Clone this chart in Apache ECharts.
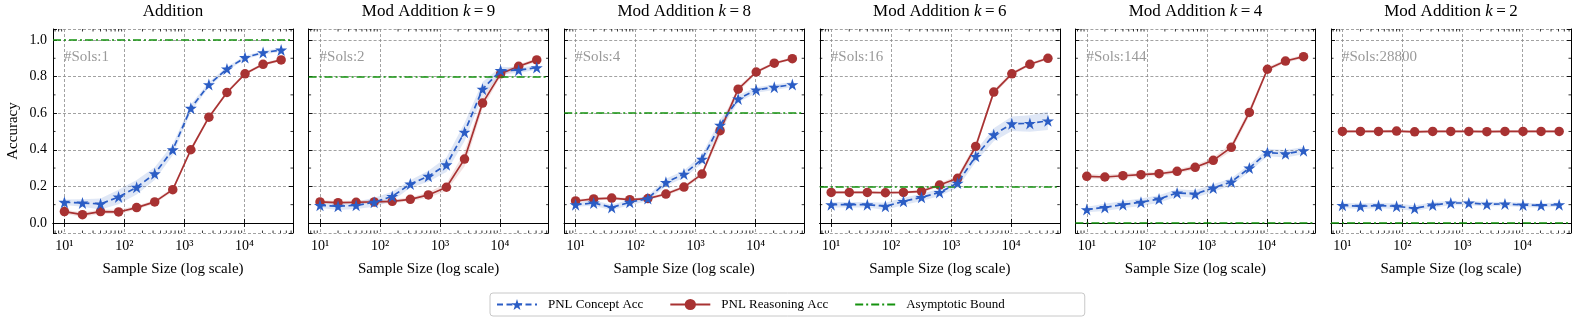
<!DOCTYPE html>
<html>
<head>
<meta charset="utf-8">
<script src="https://cdn.jsdelivr.net/npm/echarts@6/dist/echarts.min.js"></script>
<style>
  html, body { margin: 0; padding: 0; background: #fff; }
  #chart { width: 1578px; height: 326px; }
</style>
</head>
<body>
<div id="chart"></div>
<script>
// sample sizes shared by every panel
const sampleSizes = [10, 20, 40, 80, 160, 320, 640, 1280, 2560, 5120, 10240, 20480, 40960]

const panelNames = ['Addition', 'Mod Addition', 'Mod Addition', 'Mod Addition', 'Mod Addition', 'Mod Addition']
const kValues = [null, 9, 8, 6, 4, 2]
const solutionCounts = [1, 2, 4, 16, 144, 28800]
const asymptoticBound = [1.0, 0.8, 0.6, 0.2, 0.0, 0.0]

// PNL Concept Acc (mean) per panel
const conceptAddition = [0.113, 0.109, 0.104, 0.142, 0.195, 0.269, 0.400, 0.627, 0.756, 0.842, 0.904, 0.931, 0.945]
const conceptK9 = [0.096, 0.091, 0.096, 0.113, 0.145, 0.213, 0.255, 0.318, 0.496, 0.731, 0.833, 0.835, 0.849]
const conceptK8 = [0.100, 0.109, 0.085, 0.113, 0.133, 0.222, 0.267, 0.349, 0.535, 0.678, 0.727, 0.742, 0.756]
const conceptK6 = [0.100, 0.100, 0.100, 0.091, 0.118, 0.140, 0.167, 0.218, 0.364, 0.482, 0.542, 0.544, 0.558]
const conceptK4 = [0.073, 0.085, 0.100, 0.113, 0.131, 0.164, 0.158, 0.191, 0.224, 0.300, 0.385, 0.378, 0.395]
const conceptK2 = [0.096, 0.091, 0.095, 0.091, 0.080, 0.098, 0.109, 0.109, 0.102, 0.104, 0.098, 0.096, 0.100]

// PNL Reasoning Acc (mean) per panel
const reasoningAddition = [0.062, 0.045, 0.062, 0.060, 0.084, 0.115, 0.182, 0.400, 0.578, 0.713, 0.815, 0.867, 0.891]
const reasoningK9 = [0.115, 0.111, 0.113, 0.115, 0.118, 0.129, 0.153, 0.195, 0.349, 0.655, 0.815, 0.856, 0.891]
const reasoningK8 = [0.120, 0.131, 0.136, 0.127, 0.133, 0.158, 0.196, 0.267, 0.504, 0.731, 0.825, 0.873, 0.898]
const reasoningK6 = [0.167, 0.167, 0.167, 0.165, 0.167, 0.173, 0.207, 0.244, 0.418, 0.715, 0.815, 0.867, 0.900]
const reasoningK4 = [0.255, 0.251, 0.258, 0.264, 0.269, 0.282, 0.304, 0.342, 0.413, 0.604, 0.840, 0.885, 0.909]
const reasoningK2 = [0.500, 0.500, 0.500, 0.502, 0.498, 0.500, 0.500, 0.500, 0.499, 0.500, 0.500, 0.500, 0.500]

// half width of the shaded bands
const conceptSpreadAddition = [0.015, 0.020, 0.030, 0.040, 0.040, 0.035, 0.030, 0.020, 0.015, 0.012, 0.010, 0.010, 0.010]
const conceptSpreadK9 = [0.015, 0.020, 0.020, 0.025, 0.025, 0.020, 0.030, 0.040, 0.050, 0.040, 0.020, 0.015, 0.012]
const conceptSpreadK8 = [0.012, 0.015, 0.015, 0.015, 0.015, 0.020, 0.020, 0.025, 0.030, 0.020, 0.015, 0.015, 0.015]
const conceptSpreadK6 = [0.015, 0.015, 0.015, 0.020, 0.020, 0.020, 0.020, 0.025, 0.030, 0.035, 0.040, 0.045, 0.050]
const conceptSpreadK4 = [0.015, 0.020, 0.020, 0.020, 0.020, 0.020, 0.020, 0.020, 0.020, 0.020, 0.020, 0.020, 0.020]
const conceptSpreadK2 = [0.015, 0.015, 0.015, 0.015, 0.015, 0.015, 0.012, 0.012, 0.012, 0.012, 0.012, 0.012, 0.012]

const reasoningSpreadAddition = [0.012, 0.012, 0.012, 0.012, 0.010, 0.010, 0.010, 0.012, 0.010, 0.010, 0.008, 0.008, 0.008]
const reasoningSpreadK9 = [0.010, 0.010, 0.010, 0.010, 0.010, 0.010, 0.015, 0.020, 0.040, 0.030, 0.015, 0.010, 0.010]
const reasoningSpreadK8 = [0.008, 0.008, 0.008, 0.008, 0.008, 0.010, 0.010, 0.012, 0.030, 0.015, 0.010, 0.008, 0.008]
const reasoningSpreadK6 = [0.008, 0.008, 0.008, 0.008, 0.008, 0.008, 0.010, 0.015, 0.020, 0.015, 0.010, 0.008, 0.008]
const reasoningSpreadK4 = [0.012, 0.012, 0.012, 0.012, 0.012, 0.012, 0.012, 0.015, 0.020, 0.020, 0.012, 0.010, 0.010]
const reasoningSpreadK2 = [0.008, 0.008, 0.008, 0.008, 0.008, 0.008, 0.008, 0.008, 0.008, 0.008, 0.008, 0.008, 0.008]

// axis tick values
const xMajorTicks = [10, 100, 1000, 10000]
const xTickLabels = ['10\u00b9', '10\u00b2', '10\u00b3', '10\u2074']
const xMinorTicks = [7, 8, 9, 20, 30, 40, 50, 60, 70, 80, 90, 200, 300, 400, 500, 600, 700, 800, 900,
  2000, 3000, 4000, 5000, 6000, 7000, 8000, 9000, 20000, 30000, 40000, 50000, 60000]
const yMinorTicks = [0.1, 0.3, 0.5, 0.7, 0.9]

const conceptSets = [conceptAddition, conceptK9, conceptK8, conceptK6, conceptK4, conceptK2]
const reasoningSets = [reasoningAddition, reasoningK9, reasoningK8, reasoningK6, reasoningK4, reasoningK2]
const conceptSpreads = [conceptSpreadAddition, conceptSpreadK9, conceptSpreadK8, conceptSpreadK6, conceptSpreadK4, conceptSpreadK2]
const reasoningSpreads = [reasoningSpreadAddition, reasoningSpreadK9, reasoningSpreadK8, reasoningSpreadK6, reasoningSpreadK4, reasoningSpreadK2]

const FONT = 'Liberation Serif'
const BLUE = '#2b5dc5'
const RED = '#a83232'
const GREEN = '#15920f'
const STAR = 'path://M50,0 L61.2,34.5 L97.6,34.5 L68.2,55.9 L79.4,90.5 L50,69.1 L20.6,90.5 L31.8,55.9 L2.4,34.5 L38.8,34.5 Z'
const DASH_DOT = [8, 3, 2, 3]

const X_MIN = Math.pow(10, 0.81)
const X_MAX = Math.pow(10, 4.81)
const Y_MIN = -0.055
const Y_MAX = 1.06

const gridLefts = [53, 308.6, 564.2, 819.8, 1075.4, 1331]
const GRID_W = 240
const GRID_TOP = 29
const GRID_H = 204

const chart = echarts.init(document.getElementById('chart'))

const grids = []
const xAxes = []
const yAxes = []
const series = []
const graphics = []

const isPow10 = v => Math.abs(Math.log10(v) - Math.round(Math.log10(v))) < 1e-6
const xLabel = v => {
  if (!isPow10(v)) return ''
  const i = xMajorTicks.indexOf(Math.round(v))
  return i >= 0 ? xTickLabels[i] : ''
}
const yLabel = v => Math.abs(v * 5 - Math.round(v * 5)) < 1e-6 ? v.toFixed(1) : ''

// minor tick marks drawn through the axis scales
const minorRender = (axis) => (params, api) => {
  const cs = params.coordSys
  const len = 2.5
  const st = { stroke: '#000', lineWidth: 0.8 }
  if (axis === 'x') {
    const x = api.coord([api.value(0), 0.5])[0]
    return {
      type: 'group',
      children: [
        { type: 'line', shape: { x1: x, y1: cs.y + cs.height, x2: x, y2: cs.y + cs.height - len }, style: st },
        { type: 'line', shape: { x1: x, y1: cs.y, x2: x, y2: cs.y + len }, style: st }
      ]
    }
  }
  const y = api.coord([100, api.value(1)])[1]
  return {
    type: 'group',
    children: [
      { type: 'line', shape: { x1: cs.x, y1: y, x2: cs.x + len, y2: y }, style: st },
      { type: 'line', shape: { x1: cs.x + cs.width, y1: y, x2: cs.x + cs.width - len, y2: y }, style: st }
    ]
  }
}

// shaded band as one polygon (lower edge .. upper edge)
const bandSeries = (xi, yi, vals, spread, color) => {
  const pts = sampleSizes.map((s, j) => [s, vals[j] - spread[j], vals[j] + spread[j]])
  return {
    type: 'custom', xAxisIndex: xi, yAxisIndex: yi, silent: true, z: 1,
    data: pts,
    renderItem: (params, api) => {
      if (params.dataIndex !== 0) return null
      const upper = pts.map(p => api.coord([p[0], p[2]]))
      const lower = pts.map(p => api.coord([p[0], p[1]])).reverse()
      return { type: 'polygon', shape: { points: upper.concat(lower) }, style: { fill: color } }
    }
  }
}

gridLefts.forEach((left, i) => {
  grids.push({ left: left, top: GRID_TOP, width: GRID_W, height: GRID_H, containLabel: false })

  const tickStyle = { show: true, inside: true, length: 4, lineStyle: { color: '#000', width: 0.9 } }
  const frame = { show: true, lineStyle: { color: '#000', width: 1 } }
  const grid = { show: true, lineStyle: { color: '#8a8a8a', type: [3, 2], width: 0.8 } }

  // bottom x axis
  xAxes.push({
    gridIndex: i, type: 'log', logBase: 10, min: X_MIN, max: X_MAX, position: 'bottom',
    axisLine: frame, axisTick: tickStyle, splitLine: grid,
    axisLabel: { formatter: xLabel, fontFamily: FONT, fontSize: 14, color: '#000', margin: 6, showMinLabel: false, showMaxLabel: false },
    name: 'Sample Size (log scale)', nameLocation: 'middle', nameGap: 29,
    nameTextStyle: { fontFamily: FONT, fontSize: 15, color: '#000' }
  })
  // top x axis, ticks only
  xAxes.push({
    gridIndex: i, type: 'log', logBase: 10, min: X_MIN, max: X_MAX, position: 'top',
    axisLine: frame, axisTick: tickStyle, axisLabel: { show: false }, splitLine: { show: false }
  })
  // left y axis
  yAxes.push({
    gridIndex: i, type: 'value', min: Y_MIN, max: Y_MAX, position: 'left',
    axisLine: frame, axisTick: tickStyle, splitLine: grid,
    axisLabel: { show: i === 0, formatter: yLabel, fontFamily: FONT, fontSize: 14, color: '#000', margin: 6 },
    name: i === 0 ? 'Accuracy' : '', nameLocation: 'middle', nameGap: 32,
    nameTextStyle: { fontFamily: FONT, fontSize: 15, color: '#000' }
  })
  // right y axis, ticks only
  yAxes.push({
    gridIndex: i, type: 'value', min: Y_MIN, max: Y_MAX, position: 'right',
    axisLine: frame, axisTick: tickStyle, axisLabel: { show: false }, splitLine: { show: false }
  })

  const xi = i * 2
  const yi = i * 2
  const concept = conceptSets[i]
  const reasoning = reasoningSets[i]

  series.push(bandSeries(xi, yi, concept, conceptSpreads[i], 'rgba(43,93,197,0.15)'))
  series.push(bandSeries(xi, yi, reasoning, reasoningSpreads[i], 'rgba(168,50,50,0.14)'))

  series.push({
    name: 'Asymptotic Bound', type: 'line', xAxisIndex: xi, yAxisIndex: yi,
    symbol: 'none', showSymbol: false, data: [],
    lineStyle: { color: GREEN, width: 1.7, type: DASH_DOT },
    itemStyle: { color: GREEN },
    markLine: {
      silent: true, symbol: 'none', label: { show: false },
      lineStyle: { color: GREEN, width: 1.7, type: DASH_DOT },
      data: [{ yAxis: asymptoticBound[i] }]
    },
    z: 3
  })
  series.push({
    name: 'PNL Reasoning Acc', type: 'line', xAxisIndex: xi, yAxisIndex: yi,
    data: sampleSizes.map((s, j) => [s, reasoning[j]]),
    symbol: 'circle', symbolSize: 9.5,
    lineStyle: { color: RED, width: 1.7 }, itemStyle: { color: RED },
    z: 4
  })
  series.push({
    name: 'PNL Concept Acc', type: 'line', xAxisIndex: xi, yAxisIndex: yi,
    data: sampleSizes.map((s, j) => [s, concept[j]]),
    symbol: STAR, symbolSize: 12,
    lineStyle: { color: BLUE, width: 1.7, type: [6, 3.5] }, itemStyle: { color: BLUE },
    z: 5
  })

  series.push({
    type: 'custom', xAxisIndex: xi, yAxisIndex: yi, silent: true, clip: false,
    renderItem: minorRender('x'), data: xMinorTicks.map(v => [v, 0.5]), z: 6
  })
  series.push({
    type: 'custom', xAxisIndex: xi, yAxisIndex: yi, silent: true, clip: false,
    renderItem: minorRender('y'), data: yMinorTicks.map(v => [100, v]), z: 6
  })

  // panel title
  const k = kValues[i]
  graphics.push({
    type: 'text', x: left + GRID_W / 2, y: 3,
    style: {
      text: k === null ? '{n|' + panelNames[i] + '}' : '{n|' + panelNames[i] + ' }{i|k}{n|\u2009=\u2009' + k + '}',
      align: 'center', verticalAlign: 'top',
      rich: {
        n: { fontFamily: FONT, fontSize: 17, fill: '#000' },
        i: { fontFamily: FONT, fontSize: 17, fontStyle: 'italic', fill: '#000' }
      }
    }
  })
  graphics.push({
    type: 'text', x: left + 11, y: 50,
    style: { text: '#Sols:' + solutionCounts[i], fontFamily: FONT, fontSize: 15, fill: '#9a9a9a' }
  })
})

chart.setOption({
  animation: false,
  backgroundColor: '#fff',
  textStyle: { fontFamily: FONT },
  grid: grids,
  xAxis: xAxes,
  yAxis: yAxes,
  series: series,
  graphic: graphics,
  legend: {
    data: [
      { name: 'PNL Concept Acc' },
      { name: 'PNL Reasoning Acc' },
      { name: 'Asymptotic Bound', itemStyle: { opacity: 0 } }
    ],
    left: 490, top: 293,
    itemWidth: 40, itemHeight: 14, itemGap: 26,
    padding: [5, 80, 5, 6],
    borderColor: '#c8c8c8', borderWidth: 1, borderRadius: 3,
    textStyle: { fontFamily: FONT, fontSize: 13, color: '#000', padding: [0, 0, 0, 6] }
  }
})
</script>
</body>
</html>
